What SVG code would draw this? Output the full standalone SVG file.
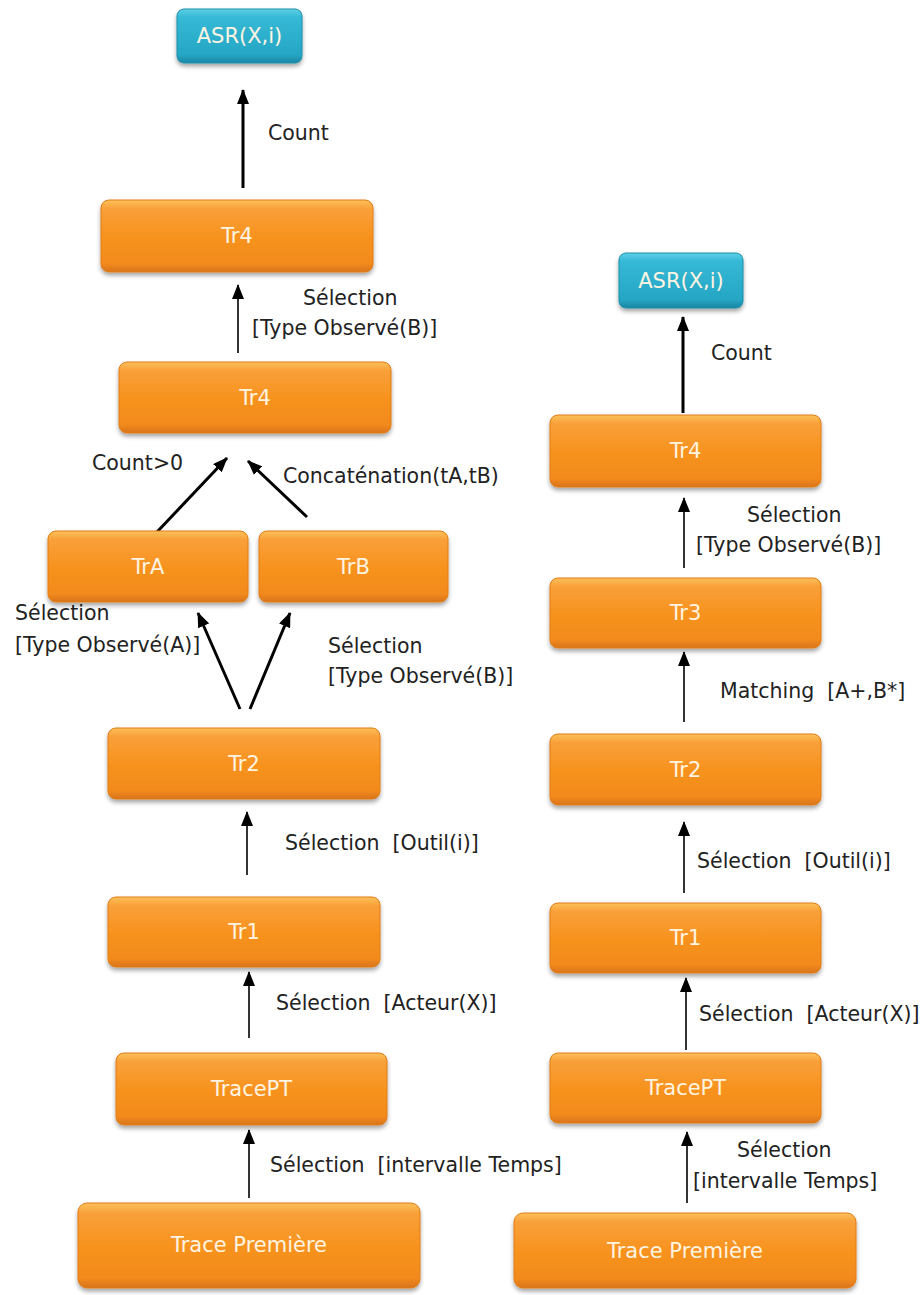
<svg xmlns="http://www.w3.org/2000/svg" width="923" height="1295" viewBox="0 0 923 1295">
<defs>
<linearGradient id="gOr" x1="0" y1="0" x2="0" y2="1">
<stop offset="0" stop-color="#fcc15a"/>
<stop offset="0.12" stop-color="#f9a03a"/>
<stop offset="0.5" stop-color="#f7931f"/>
<stop offset="0.88" stop-color="#f28a1c"/>
<stop offset="1" stop-color="#d9741a"/>
</linearGradient>
<linearGradient id="gTe" x1="0" y1="0" x2="0" y2="1">
<stop offset="0" stop-color="#5fd0e6"/>
<stop offset="0.15" stop-color="#35b9d6"/>
<stop offset="0.85" stop-color="#25a6c4"/>
<stop offset="1" stop-color="#1a86a2"/>
</linearGradient>
<filter id="sh" x="-10%" y="-20%" width="120%" height="150%">
<feDropShadow dx="0" dy="3" stdDeviation="2" flood-color="#000" flood-opacity="0.35"/>
</filter>
<marker id="ah" markerUnits="userSpaceOnUse" markerWidth="16" markerHeight="12" refX="14" refY="6" orient="auto">
<path d="M0,0 L15,6 L0,12 z" fill="#000"/>
</marker>
</defs>
<style>
.or{fill:url(#gOr);stroke:#e07d18;stroke-width:1;filter:url(#sh)}
.te{fill:url(#gTe);stroke:#1d8fab;stroke-width:1;filter:url(#sh)}
.nt{font-family:"DejaVu Sans",Verdana,sans-serif;font-size:21px;fill:#fff4e2;text-anchor:middle}
.lb{font-family:"DejaVu Sans",Verdana,sans-serif;font-size:20.5px;fill:#222}
.thin{stroke:#000;stroke-width:1.6;fill:none;marker-end:url(#ah)}
.thick{stroke:#000;stroke-width:3;fill:none;marker-end:url(#ah)}
</style>
<rect width="923" height="1295" fill="#fff"/>

<g id="connectors">
<line class="thick" x1="243" y1="188" x2="243" y2="90"/>
<line class="thin" x1="238" y1="353" x2="238" y2="285"/>
<line class="thick" x1="157" y1="532" x2="227" y2="458"/>
<line class="thick" x1="307" y1="517" x2="248" y2="461"/>
<line class="thick" x1="240" y1="709" x2="198" y2="613"/>
<line class="thick" x1="250" y1="709" x2="290" y2="613"/>
<line class="thin" x1="247" y1="875" x2="247" y2="812"/>
<line class="thin" x1="249" y1="1038" x2="249" y2="972"/>
<line class="thin" x1="249" y1="1198" x2="249" y2="1130"/>
<line class="thick" x1="683" y1="413" x2="683" y2="317"/>
<line class="thin" x1="684" y1="568" x2="684" y2="498"/>
<line class="thin" x1="684" y1="722" x2="684" y2="652"/>
<line class="thin" x1="684" y1="893" x2="684" y2="822"/>
<line class="thin" x1="686" y1="1050" x2="686" y2="978"/>
<line class="thin" x1="687" y1="1203" x2="687" y2="1132"/>
</g>

<g id="labels">
<text class="lb" x="268" y="140">Count</text>
<text class="lb" x="303" y="305">Sélection</text>
<text class="lb" x="252" y="335">[Type Observé(B)]</text>
<text class="lb" x="92" y="470">Count&gt;0</text>
<text class="lb" x="283" y="483">Concaténation(tA,tB)</text>
<text class="lb" x="15" y="620">Sélection</text>
<text class="lb" x="15" y="652">[Type Observé(A)]</text>
<text class="lb" x="328" y="653">Sélection</text>
<text class="lb" x="328" y="683">[Type Observé(B)]</text>
<text class="lb" x="285" y="850">Sélection&#160; [Outil(i)]</text>
<text class="lb" x="276" y="1010">Sélection&#160; [Acteur(X)]</text>
<text class="lb" x="270" y="1172">Sélection&#160; [intervalle Temps]</text>
<text class="lb" x="711" y="360">Count</text>
<text class="lb" x="747" y="522">Sélection</text>
<text class="lb" x="696" y="552">[Type Observé(B)]</text>
<text class="lb" x="720" y="698">Matching&#160; [A+,B*]</text>
<text class="lb" x="697" y="868">Sélection&#160; [Outil(i)]</text>
<text class="lb" x="699" y="1021">Sélection&#160; [Acteur(X)]</text>
<text class="lb" x="737" y="1157">Sélection</text>
<text class="lb" x="693" y="1188">[intervalle Temps]</text>
</g>

<g id="asrL"><rect class="te" x="177" y="9" width="125" height="54" rx="7"/><text class="nt" x="239.5" y="43">ASR(X,i)</text></g>
<g id="tr4L1"><rect class="or" x="101" y="200" width="272" height="72" rx="8"/><text class="nt" x="237" y="243">Tr4</text></g>
<g id="tr4L2"><rect class="or" x="119" y="362" width="272" height="71" rx="8"/><text class="nt" x="255" y="405">Tr4</text></g>
<g id="trA"><rect class="or" x="48" y="531" width="200" height="71" rx="8"/><text class="nt" x="148" y="574">TrA</text></g>
<g id="trB"><rect class="or" x="259" y="531" width="189" height="71" rx="8"/><text class="nt" x="353.5" y="574">TrB</text></g>
<g id="tr2L"><rect class="or" x="108" y="728" width="272" height="71" rx="8"/><text class="nt" x="244" y="771">Tr2</text></g>
<g id="tr1L"><rect class="or" x="108" y="897" width="272" height="70" rx="8"/><text class="nt" x="244" y="939">Tr1</text></g>
<g id="tracePTL"><rect class="or" x="116" y="1053" width="271" height="72" rx="8"/><text class="nt" x="251.5" y="1096">TracePT</text></g>
<g id="tpL"><rect class="or" x="78" y="1203" width="342" height="85" rx="9"/><text class="nt" x="249" y="1252">Trace Première</text></g>

<g id="asrR"><rect class="te" x="619" y="253" width="124" height="55" rx="7"/><text class="nt" x="681" y="288">ASR(X,i)</text></g>
<g id="tr4R"><rect class="or" x="550" y="415" width="271" height="72" rx="8"/><text class="nt" x="685.5" y="458">Tr4</text></g>
<g id="tr3R"><rect class="or" x="550" y="578" width="271" height="70" rx="8"/><text class="nt" x="685.5" y="620">Tr3</text></g>
<g id="tr2R"><rect class="or" x="550" y="734" width="271" height="71" rx="8"/><text class="nt" x="685.5" y="777">Tr2</text></g>
<g id="tr1R"><rect class="or" x="550" y="903" width="271" height="70" rx="8"/><text class="nt" x="685.5" y="945">Tr1</text></g>
<g id="tracePTR"><rect class="or" x="550" y="1053" width="271" height="70" rx="8"/><text class="nt" x="685.5" y="1095">TracePT</text></g>
<g id="tpR"><rect class="or" x="514" y="1213" width="342" height="75" rx="9"/><text class="nt" x="685" y="1258">Trace Première</text></g>
</svg>
